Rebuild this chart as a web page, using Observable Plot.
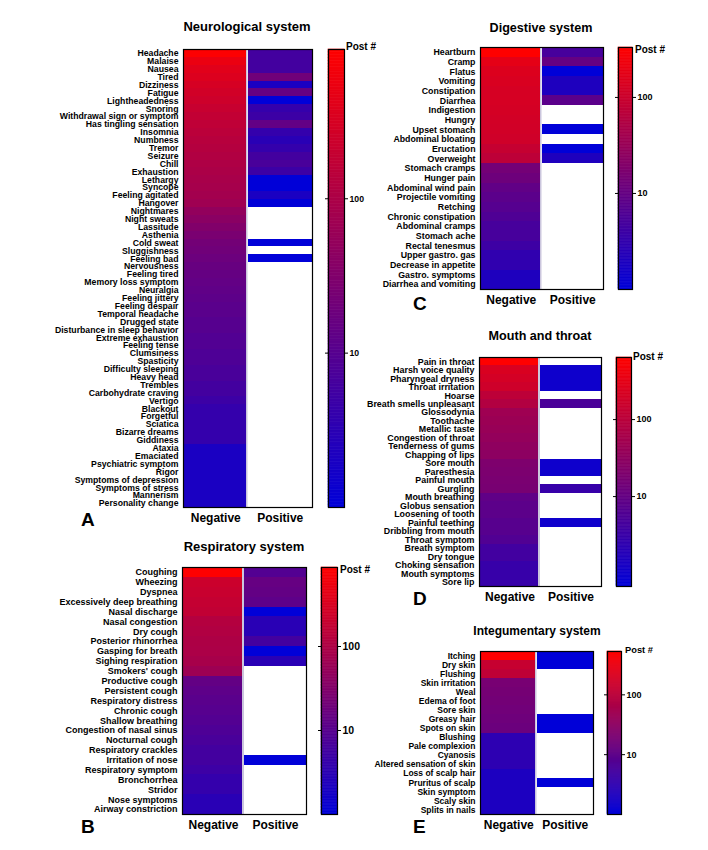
<!DOCTYPE html>
<html>
<head>
<meta charset="utf-8">
<script src="https://cdn.jsdelivr.net/npm/d3@7"></script>
<script src="https://cdn.jsdelivr.net/npm/@observablehq/plot@0.6"></script>
<style>
  html, body { margin: 0; padding: 0; background: #fff; }
  #root { position: relative; width: 708px; height: 850px; overflow: hidden; background: #fff; }
</style>
</head>
<body>
<div id="root"></div>
<script>
// ---------------- DATA ----------------
const groups = ["Negative", "Positive"];

const neuroSymptoms = ["Headache","Malaise","Nausea","Tired","Dizziness","Fatigue","Lightheadedness","Snoring","Withdrawal sign or symptom","Has tingling sensation","Insomnia","Numbness","Tremor","Seizure","Chill","Exhaustion","Lethargy","Syncope","Feeling agitated","Hangover","Nightmares","Night sweats","Lassitude","Asthenia","Cold sweat","Sluggishness","Feeling bad","Nervousness","Feeling tired","Memory loss symptom","Neuralgia","Feeling jittery","Feeling despair","Temporal headache","Drugged state","Disturbance in sleep behavior","Extreme exhaustion","Feeling tense","Clumsiness","Spasticity","Difficulty sleeping","Heavy head","Trembles","Carbohydrate craving","Vertigo","Blackout","Forgetful","Sciatica","Bizarre dreams","Giddiness","Ataxia","Emaciated","Psychiatric symptom","Rigor","Symptoms of depression","Symptoms of stress","Mannerism","Personality change"];
const neuroNegative = [880,540,410,360,310,270,240,205,180,165,150,135,125,115,105,98,90,85,78,70,50,40,32,26,22,20,18,16,15,14,13,12,11,11,10,10,9,9,8,8,7,7,6,6,5,4,4,4,4,4,2,2,2,2,2,2,2,2];
const neuroPositive = [6,6,6,20,2,15,1,4,5,14,4,3,4,6,7,5,1,1,2,1,null,null,null,null,1,null,1,null,null,null,null,null,null,null,null,null,null,null,null,null,null,null,null,null,null,null,null,null,null,null,null,null,null,null,null,null,null,null];

const respSymptoms = ["Coughing","Wheezing","Dyspnea","Excessively deep breathing","Nasal discharge","Nasal congestion","Dry cough","Posterior rhinorrhea","Gasping for breath","Sighing respiration","Smokers' cough","Productive cough","Persistent cough","Respiratory distress","Chronic cough","Shallow breathing","Congestion of nasal sinus","Nocturnal cough","Respiratory crackles","Irritation of nose","Respiratory symptom","Bronchorrhea","Stridor","Nose symptoms","Airway constriction"];
const respNegative = [850,220,200,180,170,120,110,100,95,85,65,14,12,11,10,9,8,7,6,6,5,4,4,3,3];
const respPositive = [9,15,14,12,1,3,3,6,1,3,null,null,null,null,null,null,null,null,null,1,null,null,null,null,null];

const digSymptoms = ["Heartburn","Cramp","Flatus","Vomiting","Constipation","Diarrhea","Indigestion","Hungry","Upset stomach","Abdominal bloating","Eructation","Overweight","Stomach cramps","Hunger pain","Abdominal wind pain","Projectile vomiting","Retching","Chronic constipation","Abdominal cramps","Stomach ache","Rectal tenesmus","Upper gastro. gas","Decrease in appetite","Gastro. symptoms","Diarrhea and vomiting"];
const digNegative = [330,185,150,140,130,130,125,120,115,110,88,73,14,12,9,8,7,6,5,5,4,3,3,2,2];
const digPositive = [5,10,1,2,2,8,null,null,1,null,1,2,null,null,null,null,null,null,null,null,null,null,null,null,null];

const mouthSymptoms = ["Pain in throat","Harsh voice quality","Pharyngeal dryness","Throat irritation","Hoarse","Breath smells unpleasant","Glossodynia","Toothache","Metallic taste","Congestion of throat","Tenderness of gums","Chapping of lips","Sore mouth","Paresthesia","Painful mouth","Gurgling","Mouth breathing","Globus sensation","Loosening of tooth","Painful teething","Dribbling from mouth","Throat symptom","Breath symptom","Dry tongue","Choking sensation","Mouth symptoms","Sore lip"];
const mouthNegative = [640,230,200,170,108,82,48,44,40,36,32,30,20,19,18,17,9,8,8,7,7,6,4,4,3,3,3];
const mouthPositive = [null,1,1,1,null,5,null,null,null,null,null,null,1,1,null,3,null,null,null,1,null,null,null,null,null,null,null];

const skinSymptoms = ["Itching","Dry skin","Flushing","Skin irritation","Weal","Edema of foot","Sore skin","Greasy hair","Spots on skin","Blushing","Pale complexion","Cyanosis","Altered sensation of skin","Loss of scalp hair","Pruritus of scalp","Skin symptom","Scaly skin","Splits in nails"];
const skinNegative = [520,130,110,19,18,17,16,15,14,3,3,3,3,2,2,2,2,2];
const skinPositive = [1,1,null,null,null,null,null,1,1,null,null,null,null,null,1,null,null,null];

const colorbarTicks = [10, 100];
const legendLabel = "Post #";

// ---------------- LAYOUT ----------------
const W = 708, H = 850;
const FONT = '"Liberation Sans", Arial, Helvetica, sans-serif';
const BLUE = "#0000d8", RED = "#ff0000";

const panels = [
  {symptoms: neuroSymptoms, negative: neuroNegative, positive: neuroPositive, domain: [1, 927],
   frame: [183, 49, 312, 507], bar: [328, 344], labelSize: 8.7, tickFont: 8.7,
   title: "Neurological system", tx: 247, ty: 31, tsize: 13,
   letter: "A", lx: 81, ly: 526, px: 346, py: 50, psize: 10},
  {symptoms: respSymptoms, negative: respNegative, positive: respPositive, domain: [1, 872],
   frame: [182, 567, 306, 814], bar: [321, 337], labelSize: 9, tickFont: 10.5,
   title: "Respiratory system", tx: 244, ty: 551, tsize: 13,
   letter: "B", lx: 81, ly: 833, px: 340, py: 573, psize: 10},
  {symptoms: digSymptoms, negative: digNegative, positive: digPositive, domain: [1, 331],
   frame: [480, 47, 603, 289], bar: [618, 632], labelSize: 8.8, tickFont: 9,
   title: "Digestive system", tx: 541, ty: 32, tsize: 12.6,
   letter: "C", lx: 413, ly: 310, px: 635, py: 53, psize: 10},
  {symptoms: mouthSymptoms, negative: mouthNegative, positive: mouthPositive, domain: [0.68, 640],
   frame: [479, 357, 601, 586], bar: [616, 631], labelSize: 8.9, tickFont: 9,
   title: "Mouth and throat", tx: 540, ty: 340, tsize: 12.6,
   letter: "D", lx: 413, ly: 605, px: 633, py: 360, psize: 10},
  {symptoms: skinSymptoms, negative: skinNegative, positive: skinPositive, domain: [1, 530],
   frame: [480, 651, 593, 814], bar: [607, 621], labelSize: 8.5, tickFont: 9,
   title: "Integumentary system", tx: 537, ty: 635, tsize: 12,
   letter: "E", lx: 413, ly: 833, px: 625, py: 653, psize: 9.3}
];

const root = document.getElementById("root");
const baseStyle = {position: "absolute", left: "0px", top: "0px", background: "transparent",
  fontFamily: FONT, fontWeight: "bold", overflow: "visible", color: "#000"};

for (const p of panels) {
  const rows = [];
  p.symptoms.forEach((s, i) => {
    if (p.negative[i] != null) rows.push({symptom: s, group: "Negative", count: p.negative[i]});
    if (p.positive[i] != null) rows.push({symptom: s, group: "Positive", count: p.positive[i]});
  });
  const [x0, y0, x1, y1] = p.frame;
  const color = {type: "log", domain: p.domain, range: [BLUE, RED], interpolate: "rgb"};

  const hm = Plot.plot({
    width: W, height: H,
    marginLeft: x0, marginRight: W - x1, marginTop: y0, marginBottom: H - y1,
    style: baseStyle,
    x: {type: "band", domain: groups, padding: 0, round: false, axis: null},
    y: {type: "band", domain: p.symptoms, padding: 0, round: false, axis: null},
    color,
    marks: [
      Plot.cell(["Negative"], {x: d => d, fill: "#cbc6dd"}),
      Plot.cell(rows.filter(d => d.group === "Negative"), {x: "group", y: "symptom", fill: "count", insetRight: 1.7, shapeRendering: "crispEdges"}),
      Plot.cell(rows.filter(d => d.group === "Positive"), {x: "group", y: "symptom", fill: "count", insetLeft: 0.3, shapeRendering: "crispEdges"}),
      Plot.frame({stroke: "#000", strokeWidth: 1.2}),
      Plot.axisY({anchor: "left", ticks: p.symptoms, tickSize: 0, tickPadding: 5, fontSize: p.labelSize, label: null}),
      Plot.axisX({anchor: "bottom", ticks: groups, tickSize: 0, tickPadding: 6, fontSize: 12, label: null})
    ]
  });
  root.appendChild(hm);

  const [lo, hi] = p.domain;
  const N = 160;
  const ramp = d3.range(N).map(i => ({a: lo * Math.pow(hi / lo, i / N), b: lo * Math.pow(hi / lo, (i + 1) / N)}));
  const cb = Plot.plot({
    width: W, height: H,
    marginLeft: p.bar[0], marginRight: W - p.bar[1], marginTop: y0, marginBottom: H - y1,
    style: baseStyle,
    y: {type: "log", domain: [lo, hi], axis: null},
    color,
    marks: [
      Plot.rect(ramp, {y1: "a", y2: "b", fill: d => Math.sqrt(d.a * d.b), stroke: d => Math.sqrt(d.a * d.b), strokeWidth: 0.6}),
      Plot.frame({stroke: "#000", strokeWidth: 1.2}),
      Plot.axisY({anchor: "right", ticks: colorbarTicks, tickSize: 3, tickPadding: 2, fontSize: p.tickFont, label: null, tickFormat: d => String(d)}),
      Plot.axisY({anchor: "left", ticks: colorbarTicks, tickSize: 3, tickPadding: 0, label: null, tickFormat: () => ""})
    ]
  });
  root.appendChild(cb);
}

// text overlay: titles, panel letters, legend labels
const svg = d3.select(root).append("svg")
  .attr("width", W).attr("height", H)
  .style("position", "absolute").style("left", "0px").style("top", "0px")
  .style("font-family", FONT).style("font-weight", "bold");
for (const p of panels) {
  svg.append("text").attr("x", p.tx).attr("y", p.ty).attr("text-anchor", "middle")
    .attr("font-size", p.tsize).text(p.title);
  svg.append("text").attr("x", p.lx).attr("y", p.ly).attr("font-size", 19).text(p.letter);
  svg.append("text").attr("x", p.px).attr("y", p.py).attr("font-size", p.psize).text(legendLabel);
}
</script>
</body>
</html>
